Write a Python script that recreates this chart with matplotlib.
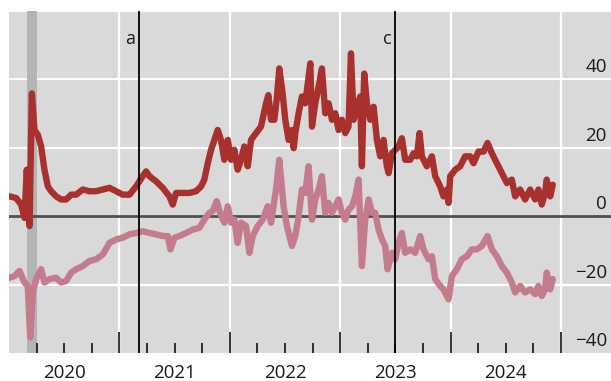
import matplotlib
matplotlib.use("Agg")
import matplotlib.pyplot as plt
import matplotlib.transforms as mtransforms
from matplotlib.ticker import FixedLocator

plt.rcParams["font.family"] = ["Open Sans", "DejaVu Sans"]

# Red series: (decimal year, percent)
red_t = [2020.005, 2020.065, 2020.110, 2020.140, 2020.161, 2020.186, 2020.207, 2020.231,
         2020.261, 2020.291, 2020.321, 2020.352, 2020.382, 2020.427, 2020.472, 2020.518,
         2020.563, 2020.608, 2020.668, 2020.729, 2020.789, 2020.849, 2020.910, 2020.970,
         2021.030, 2021.091, 2021.151, 2021.211, 2021.242, 2021.272, 2021.332, 2021.392,
         2021.453, 2021.483, 2021.513, 2021.573, 2021.634, 2021.694, 2021.739, 2021.769,
         2021.800, 2021.830, 2021.860, 2021.890, 2021.920, 2021.950, 2021.981, 2022.011,
         2022.041, 2022.071, 2022.101, 2022.131, 2022.162, 2022.192, 2022.237, 2022.282,
         2022.328, 2022.349, 2022.373, 2022.403, 2022.424, 2022.448, 2022.478, 2022.502,
         2022.532, 2022.563, 2022.578, 2022.593, 2022.623, 2022.653, 2022.683, 2022.713,
         2022.729, 2022.744, 2022.774, 2022.804, 2022.834, 2022.864, 2022.894, 2022.925,
         2022.955, 2022.985, 2023.015, 2023.045, 2023.075, 2023.097, 2023.121, 2023.151,
         2023.181, 2023.196, 2023.217, 2023.241, 2023.272, 2023.302, 2023.332, 2023.362,
         2023.392, 2023.422, 2023.438, 2023.468, 2023.498, 2023.528, 2023.558, 2023.588,
         2023.634, 2023.664, 2023.694, 2023.718, 2023.739, 2023.784, 2023.830, 2023.860,
         2023.905, 2023.935, 2023.966, 2023.981, 2023.996, 2024.041, 2024.086, 2024.131,
         2024.177, 2024.207, 2024.252, 2024.297, 2024.334, 2024.373, 2024.418, 2024.463,
         2024.509, 2024.554, 2024.584, 2024.629, 2024.674, 2024.720, 2024.765, 2024.795,
         2024.825, 2024.855, 2024.870, 2024.901, 2024.925]
red_v = [5.8, 5.3, 3.4, -0.5, 13.6, -2.9, 35.9, 25.2,
         23.8, 20.4, 13.6, 8.7, 7.3, 5.8, 4.9, 4.9,
         6.3, 6.3, 7.8, 7.3, 7.3, 7.8, 8.3, 7.3,
         6.3, 6.3, 8.7, 11.7, 13.1, 11.7, 10.2, 8.3,
         5.8, 3.4, 6.8, 6.8, 6.8, 7.3, 8.7, 10.7,
         15.5, 19.4, 22.3, 25.2, 22.3, 16.5, 22.3, 16.5,
         19.4, 13.6, 16.5, 20.4, 14.6, 22.3, 24.3, 26.2,
         33.0, 35.4, 28.2, 28.2, 34.0, 43.2, 35.9, 28.2,
         22.3, 25.2, 19.9, 24.3, 30.1, 35.0, 33.0, 40.8,
         44.7, 26.2, 33.0, 37.9, 43.2, 30.1, 33.0, 28.2,
         30.1, 25.2, 28.2, 24.3, 26.2, 47.6, 28.2, 32.0,
         35.0, 14.6, 41.7, 33.0, 28.2, 32.0, 22.3, 17.5,
         22.3, 14.6, 12.6, 18.4, 19.4, 20.4, 22.8, 16.5,
         16.5, 18.4, 17.5, 24.3, 17.5, 14.6, 17.5, 11.7,
         8.7, 5.8, 7.8, 3.9, 11.7, 13.6, 14.6, 17.5,
         17.5, 15.5, 18.9, 18.9, 21.4, 18.4, 15.5, 12.6,
         9.7, 10.7, 5.8, 7.8, 4.9, 7.8, 4.9, 7.8,
         3.4, 6.8, 10.7, 5.8, 9.2]

# Pink series: (decimal year, percent)
pink_t = [2020.005, 2020.050, 2020.095, 2020.140, 2020.170, 2020.192, 2020.216, 2020.246,
          2020.291, 2020.321, 2020.367, 2020.427, 2020.472, 2020.518, 2020.563, 2020.608,
          2020.668, 2020.729, 2020.789, 2020.849, 2020.910, 2020.970, 2021.030, 2021.091,
          2021.151, 2021.211, 2021.272, 2021.332, 2021.392, 2021.438, 2021.462, 2021.498,
          2021.543, 2021.604, 2021.664, 2021.724, 2021.769, 2021.815, 2021.845, 2021.881,
          2021.911, 2021.950, 2021.981, 2022.011, 2022.041, 2022.071, 2022.101, 2022.147,
          2022.177, 2022.207, 2022.252, 2022.298, 2022.343, 2022.373, 2022.418, 2022.448,
          2022.487, 2022.517, 2022.563, 2022.593, 2022.623, 2022.653, 2022.683, 2022.713,
          2022.744, 2022.774, 2022.804, 2022.834, 2022.864, 2022.894, 2022.925, 2022.955,
          2022.985, 2023.015, 2023.045, 2023.075, 2023.106, 2023.136, 2023.166, 2023.196,
          2023.226, 2023.257, 2023.287, 2023.317, 2023.347, 2023.377, 2023.407, 2023.428,
          2023.468, 2023.498, 2023.528, 2023.558, 2023.588, 2023.634, 2023.679, 2023.724,
          2023.754, 2023.800, 2023.830, 2023.860, 2023.905, 2023.935, 2023.981, 2024.011,
          2024.056, 2024.101, 2024.147, 2024.192, 2024.237, 2024.282, 2024.334, 2024.373,
          2024.418, 2024.463, 2024.509, 2024.554, 2024.584, 2024.629, 2024.674, 2024.720,
          2024.765, 2024.795, 2024.825, 2024.855, 2024.870, 2024.901, 2024.925]
pink_v = [-18.0, -17.5, -16.0, -19.4, -20.4, -35.4, -22.3, -18.4,
          -15.5, -19.4, -18.4, -18.0, -19.4, -18.9, -16.5, -15.5,
          -14.6, -13.1, -12.6, -11.2, -7.8, -6.8, -6.3, -5.3,
          -4.9, -4.4, -4.9, -5.3, -5.8, -5.8, -9.7, -6.3,
          -5.8, -4.9, -3.9, -3.4, -1.0, 1.0, 1.5, 4.4,
          1.0, -1.9, 2.9, -1.9, -1.0, -7.8, -1.9, -2.9,
          -10.7, -5.8, -2.9, -1.0, 2.9, -1.9, 7.8, 16.5,
          2.9, -2.9, -8.7, -5.8, 0.0, 7.8, 6.8, 14.6,
          -1.0, 4.9, 7.8, 11.7, 1.0, 3.9, 1.0, 2.9,
          4.9, 1.0, -1.0, 1.9, 2.9, 5.8, 10.7, -14.6,
          -1.0, 4.9, 1.0, 1.0, -3.9, -6.8, -8.7, -15.5,
          -10.7, -12.6, -7.8, -4.9, -10.7, -9.7, -10.7, -5.8,
          -9.7, -12.6, -11.7, -18.4, -20.4, -21.4, -24.3, -17.5,
          -15.5, -12.6, -11.7, -9.7, -9.7, -8.7, -5.8, -9.7,
          -11.7, -14.6, -16.5, -19.4, -22.3, -20.4, -22.3, -21.4,
          -22.8, -20.4, -23.3, -21.4, -16.5, -21.4, -18.4]

years = [2020, 2021, 2022, 2023, 2024]
y_labels = [40, 20, 0, -20, -40]
events = [(2021.18, "a"), (2023.50, "c")]
recession = (2020.16, 2020.25)

W, H = 611, 381
fig = plt.figure(figsize=(W / 100, H / 100), dpi=100)
fig.patch.set_facecolor("white")
ax = fig.add_axes([9 / W, (H - 353) / H, 1 - 9 / W, (353 - 11) / H])
ax.set_facecolor("#d9d9d9")
ax.set_xlim(2020.0, 2025.452)
ax.set_ylim(-40, 60)
for s in ax.spines.values():
    s.set_visible(False)

# white grid
for y in [60, 40, 20, -20]:
    ax.axhline(y, color="white", lw=1.6, zorder=1)
for yr in range(2021, 2026):
    ax.axvline(yr, color="white", lw=1.6, zorder=1)

ax.axvspan(*recession, color="#b4b4b4", lw=0, zorder=1.5)
ax.axhline(0, color="#505050", lw=2.0, zorder=2)

ax.plot(pink_t, pink_v, color="#c47c8c", lw=4.6, solid_joinstyle="round",
        solid_capstyle="round", zorder=3)
ax.plot(red_t, red_v, color="#a8312d", lw=4.6, solid_joinstyle="round",
        solid_capstyle="round", zorder=4)

# event markers with their letters just left of the line
trans_ev = mtransforms.offset_copy(ax.get_xaxis_transform(), fig=fig, x=-4, y=0, units="dots")
for t, lab in events:
    ax.axvline(t, color="black", lw=1.3, zorder=5)
    ax.text(t, 0.918, lab, transform=trans_ev, ha="right", va="center",
            fontsize=13, color="#1a1a1a")

# ticks inside from the bottom edge
ax.xaxis.set_major_locator(FixedLocator([2021, 2022, 2023, 2024, 2025]))
ax.xaxis.set_minor_locator(FixedLocator([y + q for y in range(2020, 2025) for q in (0.25, 0.5, 0.75)]))
ax.tick_params(axis="x", which="major", direction="in", length=15, width=1.1,
               color="black", labelbottom=False)
ax.tick_params(axis="x", which="minor", direction="in", length=7.5, width=1.1,
               color="black")
ax.set_yticks([])

# year labels centred between year boundaries
trans_x = mtransforms.offset_copy(ax.get_xaxis_transform(), fig=fig, x=0, y=-20, units="dots")
for yr in years:
    ax.text(yr + 0.5, 0, str(yr), transform=trans_x, ha="center", va="center",
            fontsize=13.5, color="#1a1a1a", clip_on=False)

# value labels sitting above their gridlines at the right
trans_y = mtransforms.offset_copy(ax.get_yaxis_transform(), fig=fig, x=0, y=12, units="dots")
x_lab = (607 - 9) / (W - 9)
for v in y_labels:
    txt = str(v).replace("-", "\u2212")
    ax.text(x_lab, v, txt, transform=trans_y, ha="right", va="center",
            fontsize=13.5, color="#1a1a1a", clip_on=False)

fig.savefig("out.png", dpi=100)
